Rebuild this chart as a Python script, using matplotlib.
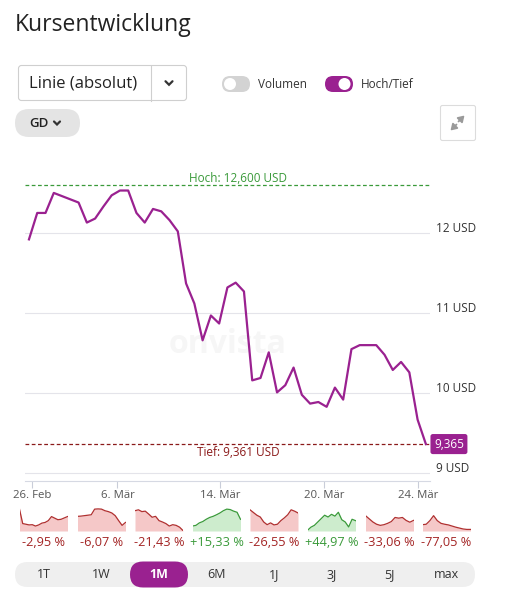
import matplotlib
matplotlib.use("Agg")
import matplotlib.pyplot as plt
from matplotlib.patches import FancyBboxPatch, Circle
from matplotlib.transforms import ScaledTranslation, blended_transform_factory

plt.rcParams['font.family'] = ['Open Sans', 'DejaVu Sans']

# price series (USD), one value per sample
prices = [11.92, 12.25, 12.25, 12.50, 12.46, 12.42, 12.38, 12.13, 12.18, 12.33,
          12.47, 12.53, 12.53, 12.25, 12.13, 12.30, 12.27, 12.16, 12.02, 11.37,
          11.12, 10.66, 10.97, 10.87, 11.32, 11.38, 11.27, 10.16, 10.19, 10.51,
          10.01, 10.10, 10.32, 9.98, 9.87, 9.89, 9.83, 10.07, 9.92, 10.55,
          10.60, 10.60, 10.60, 10.48, 10.29, 10.39, 10.26, 9.67, 9.365]
high = 12.600
low = 9.361
last = 9.365
y_ticks = [9, 10, 11, 12]
x_tick_pos = [0.4, 10.7, 23.1, 35.7, 47.1]
x_tick_labels = ['26. Feb', '6. Mär', '14. Mär', '20. Mär', '24. Mär']

# small period charts (relative height 0..1)
periods = ['1T', '1W', '1M', '6M', '1J', '3J', '5J', 'max']
changes = ['-2,95 %', '-6,07 %', '-21,43 %', '+15,33 %', '-26,55 %', '+44,97 %', '-33,06 %', '-77,05 %']
spark = [
    [0.97, 0.33, 0.30, 0.27, 0.28, 0.22, 0.27, 0.35, 0.38, 0.46, 0.64, 0.57, 0.50, 0.52, 0.58, 0.64],
    [0.65, 0.66, 0.68, 0.70, 0.72, 0.97, 0.98, 0.97, 0.90, 0.86, 0.80, 0.68, 0.46, 0.25, 0.38],
    [0.90, 0.94, 0.86, 0.88, 0.75, 0.61, 0.65, 0.46, 0.40, 0.33, 0.22, 0.28, 0.25, 0.17, 0.02],
    [0.22, 0.25, 0.36, 0.42, 0.52, 0.60, 0.65, 0.72, 0.80, 0.90, 0.97, 0.95, 0.88, 0.83, 0.52],
    [0.94, 0.82, 0.70, 0.62, 0.40, 0.28, 0.36, 0.27, 0.30, 0.46, 0.58, 0.72, 0.94, 0.88, 0.80],
    [0.03, 0.17, 0.25, 0.40, 0.55, 0.70, 0.62, 0.74, 0.66, 0.83, 0.50, 0.40, 0.18, 0.52, 0.46],
    [0.68, 0.54, 0.40, 0.30, 0.25, 0.28, 0.34, 0.42, 0.60, 0.57, 0.60, 0.47, 0.39, 0.47],
    [0.28, 0.30, 0.46, 0.68, 0.46, 0.34, 0.30, 0.27, 0.22, 0.17, 0.13, 0.09, 0.07, 0.07],
]
selected = '1M'

PURPLE = '#9a2190'
RED = '#a32424'
GREEN = '#3a9a3a'
W, H = 511, 603

fig = plt.figure(figsize=(W / 100, H / 100), dpi=100)

# overlay in pixel coords for the UI parts
ui = fig.add_axes([0, 0, 1, 1])
ui.set_xlim(0, W)
ui.set_ylim(H, 0)
ui.axis('off')
ui.set_zorder(0)


def pill(x0, y0, w, h, fc, ec='none', r=None, lw=0.8):
    r = h / 2 if r is None else r
    ui.add_patch(FancyBboxPatch((x0, y0), w, h, boxstyle=f"round,pad=0,rounding_size={r}",
                                fc=fc, ec=ec, lw=lw))


def chevron(cx, cy, s=3.5, color='#333333'):
    ui.plot([cx - s, cx, cx + s], [cy - s / 2, cy + s / 2, cy - s / 2], color=color, lw=1.6,
            solid_capstyle='round', solid_joinstyle='miter')


ui.text(15, 25, 'Kursentwicklung', fontsize=16.5, color='#222222', va='center')

# dropdown
pill(18.5, 65.5, 168, 35, 'white', ec='#cfcfcf', r=3)
ui.plot([151, 151], [65.5, 100.5], color='#cfcfcf', lw=0.8)
ui.text(29, 84, 'Linie (absolut)', fontsize=12, color='#222222', va='center')
chevron(169, 83)

# toggles
pill(222, 76, 28, 16, '#d3d3d3')
ui.add_patch(Circle((230, 84), 6, fc='white', ec='none'))
ui.text(258, 84, 'Volumen', fontsize=8.5, color='#333333', va='center')
pill(325, 76, 28, 16, PURPLE)
ui.add_patch(Circle((344.5, 84), 6, fc='white', ec='none'))
ui.text(361, 84, 'Hoch/Tief', fontsize=8.5, color='#333333', va='center')

# GD pill
pill(15, 109, 65, 28, '#e4e4e4')
ui.text(29, 123.5, 'GD', fontsize=9.5, color='#222222', va='center', fontweight='semibold')
chevron(57, 123, s=3)

# expand button
pill(440.5, 105.5, 35, 35, 'white', ec='#dcdcdc', r=2)
for (x0, y0, x1, y1) in [(458.5, 121.5, 464.5, 115.5), (456.5, 124.5, 450.5, 130.5)]:
    ui.annotate('', xy=(x1, y1), xytext=(x0, y0),
                arrowprops=dict(arrowstyle='-|>,head_length=0.35,head_width=0.22',
                                color='#9a9a9a', lw=1.3, shrinkA=0, shrinkB=0))

# main chart
ax = fig.add_axes([25 / W, 1 - 481 / H, 405 / W, 321 / H])
ax.set_zorder(1)
ax.patch.set_alpha(0)
ax.set_xlim(-0.48, 48.5)
ax.set_ylim(8.904, 12.911)
for s in ['top', 'right', 'left']:
    ax.spines[s].set_visible(False)
ax.spines['bottom'].set_color('#d6d9e3')
ax.spines['bottom'].set_linewidth(0.8)

ax.set_yticks(y_ticks)
ax.set_yticklabels([f'{v} USD' for v in y_ticks])
ax.yaxis.tick_right()
ax.tick_params(axis='y', length=0, pad=4, labelsize=8.5, labelcolor='#333333')
ax.grid(axis='y', color='#e4e4ea', lw=0.8)
off = ScaledTranslation(0, 6 / 100, fig.dpi_scale_trans)
for lbl in ax.get_yticklabels():
    lbl.set_transform(lbl.get_transform() + off)

ax.set_xticks(x_tick_pos)
ax.set_xticklabels(x_tick_labels)
ax.tick_params(axis='x', length=5, width=0.8, color='#c9cdd9', pad=1.5,
               labelsize=8.2, labelcolor='#555555')

ax.text(0.50, 0.424, 'onvista', transform=ax.transAxes, fontsize=23, fontweight='bold',
        color='#f6f6f6', ha='center', va='center', zorder=0)

ax.plot(range(len(prices)), prices, color=PURPLE, lw=1.6, zorder=3)

bt = blended_transform_factory(ax.transAxes, ax.transData)
ax.axhline(high, color=GREEN, lw=0.9, ls=(0, (3, 2)), zorder=2)
ax.text(0.526, high, f'Hoch: {high:.3f} USD'.replace('.', ','), transform=bt,
        fontsize=8.5, color=GREEN, ha='center', va='bottom')
ax.axhline(low, color='#8b1a1a', lw=0.9, ls=(0, (3, 2)), zorder=2)
ax.text(0.526, low - 0.025, f'Tief: {low:.3f} USD'.replace('.', ','), transform=bt,
        fontsize=8.5, color='#8b1a1a', ha='center', va='top')
ax.text(1.0 + 4 / 405, last, f'{last:.3f}'.replace('.', ','), transform=bt, fontsize=8.5,
        color='white', ha='left', va='center', zorder=5, clip_on=False,
        bbox=dict(boxstyle='round,pad=0.3,rounding_size=0.2', fc=PURPLE, ec='none'))

# period strip
centers = [43.5, 101.5, 159, 216.5, 274, 331.5, 389.5, 446.5]
for c, vals, ch in zip(centers, spark, changes):
    up = ch.startswith('+')
    sax = fig.add_axes([(c - 24) / W, 1 - 531 / H, 48 / W, 23 / H])
    sax.set_zorder(1)
    sax.patch.set_alpha(0)
    xs = range(len(vals))
    sax.fill_between(xs, 0, vals, color='#cdeccd' if up else '#f5c8c8', lw=0)
    sax.plot(xs, vals, color=GREEN if up else '#b03030', lw=0.9)
    sax.set_xlim(0, len(vals) - 1)
    sax.set_ylim(0, 1.02)
    sax.axis('off')
    ui.text(c, 542, ch, fontsize=9.2, color=GREEN if up else RED, ha='center', va='center')

pill(15, 562, 460, 25, '#efefef')
for c, p in zip(centers, periods):
    if p == selected:
        pill(c - 29, 561.5, 58, 26, PURPLE)
        ui.text(c, 575, p, fontsize=9, color='white', fontweight='bold', ha='center', va='center')
    else:
        ui.text(c, 575, p, fontsize=9, color='#333333', ha='center', va='center',
                fontweight='medium')

fig.savefig('out.png', dpi=100)
